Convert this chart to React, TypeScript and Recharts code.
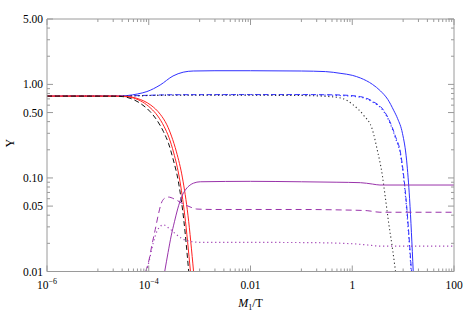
import { LineChart, Line, XAxis, YAxis, Label } from 'recharts';

// Y vs M1/T, log-log; each series is [x, y]
const blueSolid: [number, number][] = [
  [1e-6, 0.75], [1e-5, 0.75], [2.5e-5, 0.752], [3.8e-5, 0.76], [6e-5, 0.79], [9.2e-5, 0.838],
  [1.68e-4, 0.986], [3e-4, 1.23], [4.75e-4, 1.35], [7.5e-4, 1.39], [2e-3, 1.4], [0.01, 1.4],
  [0.1, 1.39], [0.3, 1.37], [0.6, 1.31], [1, 1.25], [1.45, 1.17], [2.5, 1.0], [3.6, 0.85],
  [5, 0.69], [6.5, 0.53], [7.8, 0.43], [9.7, 0.3], [11.7, 0.155], [13.4, 0.06], [15.8, 0.01],
];
const blueDashed: [number, number][] = [
  [1e-6, 0.75], [3e-5, 0.752], [1e-4, 0.765], [3e-4, 0.775], [0.01, 0.778], [0.1, 0.778],
  [0.3, 0.775], [0.6, 0.77], [1.45, 0.74], [2.6, 0.653], [4.1, 0.532], [5.65, 0.386],
  [7.1, 0.276], [8.9, 0.185], [11.1, 0.07], [14.6, 0.01],
];
const blueDotted: [number, number][] = [
  [1e-6, 0.75], [3e-5, 0.752], [1e-4, 0.762], [3e-4, 0.77], [0.01, 0.772], [0.1, 0.772],
  [0.3, 0.768], [0.6, 0.76], [1.45, 0.73], [2.6, 0.64], [4.1, 0.52], [5.65, 0.375],
  [7.1, 0.265], [8.9, 0.175], [11.1, 0.065], [14.4, 0.01],
];
const blackDotted: [number, number][] = [
  [1e-6, 0.75], [3e-5, 0.752], [1e-4, 0.76], [3e-4, 0.765], [0.01, 0.765], [0.1, 0.76],
  [0.3, 0.745], [0.6, 0.715], [1.06, 0.6], [1.66, 0.47], [2.5, 0.325], [3.1, 0.2],
  [3.9, 0.107], [4.5, 0.06], [5.2, 0.033], [6.1, 0.0184], [7.1, 0.01],
];
const blackDashed: [number, number][] = [
  [1e-6, 0.75], [2e-5, 0.748], [3.1e-5, 0.74], [4.3e-5, 0.71], [6.8e-5, 0.628], [1.07e-4, 0.51],
  [1.44e-4, 0.416], [1.95e-4, 0.312], [2.44e-4, 0.235], [3e-4, 0.16], [3.8e-4, 0.093],
  [4.9e-4, 0.035], [6.1e-4, 0.01],
];
const redInner: [number, number][] = [
  [1e-6, 0.75], [2e-5, 0.749], [3.5e-5, 0.74], [5e-5, 0.715], [7.5e-5, 0.65], [1.1e-4, 0.555],
  [1.5e-4, 0.46], [2e-4, 0.355], [2.5e-4, 0.27], [3.1e-4, 0.185], [4e-4, 0.1], [5.1e-4, 0.04],
  [6.6e-4, 0.01],
];
const redOuter: [number, number][] = [
  [1e-6, 0.75], [2.5e-5, 0.75], [4e-5, 0.742], [5.8e-5, 0.71], [8e-5, 0.665], [1.1e-4, 0.6],
  [1.68e-4, 0.48], [2.27e-4, 0.37], [2.8e-4, 0.28], [3.5e-4, 0.19], [4.6e-4, 0.1],
  [5.9e-4, 0.04], [7.6e-4, 0.01],
];
const purpleSolid: [number, number][] = [
  [2.06e-4, 0.01], [2.4e-4, 0.016], [2.76e-4, 0.024], [3.2e-4, 0.034], [3.7e-4, 0.0466],
  [4.5e-4, 0.064], [5.4e-4, 0.076], [6.5e-4, 0.084], [7.6e-4, 0.088], [1.03e-3, 0.091],
  [0.01, 0.092], [0.1, 0.091], [0.5, 0.09], [1.45, 0.089], [2.5, 0.086], [3.5, 0.084],
  [10, 0.084], [100, 0.084],
];
const purpleDashed: [number, number][] = [
  [8.7e-5, 0.01], [1.02e-4, 0.0135], [1.15e-4, 0.019], [1.34e-4, 0.028], [1.55e-4, 0.041],
  [1.75e-4, 0.053], [2e-4, 0.06], [2.4e-4, 0.0625], [3.3e-4, 0.059], [4.5e-4, 0.0536],
  [6.5e-4, 0.049], [8.8e-4, 0.0465], [2e-3, 0.046], [0.1, 0.046], [0.6, 0.0455],
  [1.96, 0.0447], [3.5, 0.043], [100, 0.043],
];
const purpleDotted: [number, number][] = [
  [9e-5, 0.01], [1.02e-4, 0.013], [1.15e-4, 0.0175], [1.34e-4, 0.024], [1.6e-4, 0.0295],
  [1.95e-4, 0.0315], [2.5e-4, 0.029], [3.3e-4, 0.0255], [4.5e-4, 0.0225], [6.5e-4, 0.021],
  [1e-3, 0.0205], [0.1, 0.0204], [1, 0.0198], [2, 0.0192], [3.5, 0.0187], [100, 0.0187],
];

const xMajor = [1e-6, 1e-4, 0.01, 1, 100];
const xLabelBase = ['10', '10', '0.01', '1', '100'];
const xLabelExp = ['\u22126', '\u22124', '', '', ''];
const xMinor = [
  1e-5, 2e-5, 3e-5, 4e-5, 5e-5, 6e-5, 7e-5, 8e-5, 9e-5,
  1e-3, 2e-3, 3e-3, 4e-3, 5e-3, 6e-3, 7e-3, 8e-3, 9e-3,
  0.1, 0.2, 0.3, 0.4, 0.5, 0.6, 0.7, 0.8, 0.9,
  10, 20, 30, 40, 50, 60, 70, 80, 90,
];
const yMajor = [0.01, 0.05, 0.1, 0.5, 1, 5];
const yLabels = ['0.01', '0.05', '0.10', '0.50', '1.00', '5.00'];
const yMinor = [0.02, 0.03, 0.04, 0.06, 0.07, 0.08, 0.09, 0.2, 0.3, 0.4, 0.6, 0.7, 0.8, 0.9, 2, 3, 4];

const FRAME = '#9a9a9a';
const FONT = '"Liberation Serif", "DejaVu Serif", serif';
const toPts = (s: [number, number][]) => s.map(([x, y]) => ({ x, y }));

const BottomTick = (props: any) => {
  const { x, y, payload } = props;
  const i = xMajor.indexOf(payload.value);
  return (
    <g>
      <line x1={x} x2={x} y1={y} y2={y - (i >= 0 ? 6 : 3)} stroke={FRAME} />
      {i >= 0 && (
        <text x={x} y={y + 17} textAnchor="middle" fontSize={11.5} fontFamily={FONT} fill="#000">
          <tspan>{xLabelBase[i]}</tspan>
          {xLabelExp[i] && <tspan fontSize={8} dy={-5}>{xLabelExp[i]}</tspan>}
        </text>
      )}
    </g>
  );
};

const TopTick = (props: any) => {
  const { x, y, payload } = props;
  const major = xMajor.includes(payload.value);
  return <line x1={x} x2={x} y1={y} y2={y + (major ? 6 : 3)} stroke={FRAME} />;
};

const LeftTick = (props: any) => {
  const { x, y, payload } = props;
  const i = yMajor.indexOf(payload.value);
  return (
    <g>
      <line x1={x} x2={x + (i >= 0 ? 6 : 3)} y1={y} y2={y} stroke={FRAME} />
      {i >= 0 && (
        <text x={x - 4} y={y + 4} textAnchor="end" fontSize={11.5} fontFamily={FONT} fill="#000">
          {yLabels[i]}
        </text>
      )}
    </g>
  );
};

const RightTick = (props: any) => {
  const { x, y, payload } = props;
  const major = yMajor.includes(payload.value);
  return <line x1={x} x2={x - (major ? 6 : 3)} y1={y} y2={y} stroke={FRAME} />;
};

const XTitle = (props: any) => {
  const { viewBox } = props;
  return (
    <text x={viewBox.x + viewBox.width / 2} y={viewBox.y + 35} textAnchor="middle" fontSize={12} fontFamily={FONT} fill="#000">
      <tspan fontStyle="italic">M</tspan>
      <tspan fontSize={8} dy={3}>1</tspan>
      <tspan dy={-3}>/T</tspan>
    </text>
  );
};

const YTitle = (props: any) => {
  const { viewBox } = props;
  const cy = viewBox.y + viewBox.height / 2 - 2;
  return (
    <text x={10} y={cy} textAnchor="middle" dominantBaseline="central" fontSize={12} fontFamily={FONT} fill="#000" transform={`rotate(-90 10 ${cy})`}>
      Y
    </text>
  );
};

const series = [
  { name: 'blueSolid', data: blueSolid, color: '#3030ff', dash: undefined, w: 1 },
  { name: 'blueDashed', data: blueDashed, color: '#3030ff', dash: '5 3', w: 1 },
  { name: 'blueDotted', data: blueDotted, color: '#3030ff', dash: '1.2 2.6', w: 1.2 },
  { name: 'blackDotted', data: blackDotted, color: '#333', dash: '1.2 2.6', w: 1.1 },
  { name: 'redInner', data: redInner, color: '#ff2020', dash: undefined, w: 1 },
  { name: 'redOuter', data: redOuter, color: '#ff2020', dash: undefined, w: 1 },
  { name: 'blackDashed', data: blackDashed, color: '#111', dash: '5 3', w: 1 },
  { name: 'purpleSolid', data: purpleSolid, color: '#9933aa', dash: undefined, w: 1 },
  { name: 'purpleDashed', data: purpleDashed, color: '#9933aa', dash: '6 4', w: 1 },
  { name: 'purpleDotted', data: purpleDotted, color: '#a040b4', dash: '1.2 2.8', w: 1.2 },
];

export default function App() {
  return (
    <div style={{ position: 'absolute', left: 0, top: 0, background: '#fff' }}>
      <LineChart width={463} height={312} margin={{ top: 0, right: 0, bottom: 0, left: 0 }}>
        <XAxis
          xAxisId="b"
          dataKey="x"
          type="number"
          scale="log"
          domain={[1e-6, 100]}
          allowDataOverflow
          ticks={[...xMajor, ...xMinor]}
          interval={0}
          height={40.5}
          tickSize={0}
          tickMargin={0}
          tickLine={false}
          tick={<BottomTick />}
          axisLine={{ stroke: FRAME }}
        >
          <Label content={<XTitle />} />
        </XAxis>
        <XAxis
          xAxisId="t"
          orientation="top"
          dataKey="x"
          type="number"
          scale="log"
          domain={[1e-6, 100]}
          allowDataOverflow
          ticks={[...xMajor, ...xMinor]}
          interval={0}
          height={19}
          tickSize={0}
          tickMargin={0}
          tickLine={false}
          tick={<TopTick />}
          axisLine={{ stroke: FRAME }}
        />
        <YAxis
          yAxisId="l"
          type="number"
          scale="log"
          domain={[0.01, 5]}
          allowDataOverflow
          ticks={[...yMajor, ...yMinor]}
          interval={0}
          width={47}
          tickSize={0}
          tickMargin={0}
          tickLine={false}
          tick={<LeftTick />}
          axisLine={{ stroke: FRAME }}
        >
          <Label content={<YTitle />} />
        </YAxis>
        <YAxis
          yAxisId="r"
          orientation="right"
          type="number"
          scale="log"
          domain={[0.01, 5]}
          allowDataOverflow
          ticks={[...yMajor, ...yMinor]}
          interval={0}
          width={9}
          tickSize={0}
          tickMargin={0}
          tickLine={false}
          tick={<RightTick />}
          axisLine={{ stroke: FRAME }}
        />
        {series.map((s) => (
          <Line
            key={s.name}
            xAxisId="b"
            yAxisId="l"
            data={toPts(s.data)}
            dataKey="y"
            type="monotone"
            stroke={s.color}
            strokeWidth={s.w}
            strokeDasharray={s.dash}
            dot={false}
            activeDot={false}
            isAnimationActive={false}
          />
        ))}
      </LineChart>
    </div>
  );
}
